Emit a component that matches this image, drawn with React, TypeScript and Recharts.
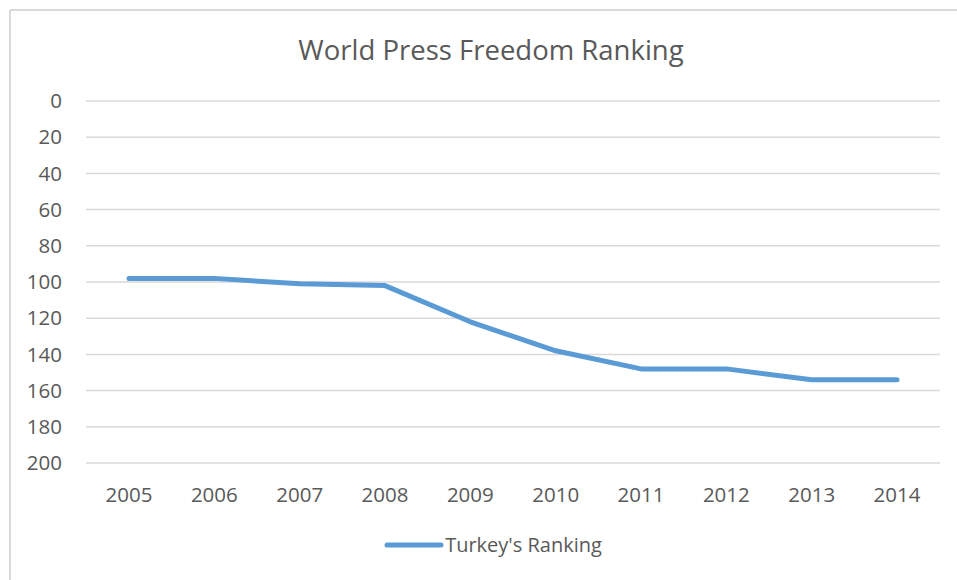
import React from 'react';
import { LineChart, Line, XAxis, YAxis, CartesianGrid, Legend } from 'recharts';

const years = ['2005', '2006', '2007', '2008', '2009', '2010', '2011', '2012', '2013', '2014'];
const turkeyRanking = [98, 98, 101, 102, 122, 138, 148, 148, 154, 154];
const yTicks = [0, 20, 40, 60, 80, 100, 120, 140, 160, 180, 200];
const seriesName = "Turkey's Ranking";
const title = 'World Press Freedom Ranking';

const data = years.map((y, i) => ({ year: y, value: turkeyRanking[i] }));

const FONT = '"Open Sans", Lato, sans-serif';
const TEXT = '#595959';

const LegendContent = () => (
  <div
    style={{
      display: 'flex',
      justifyContent: 'center',
      alignItems: 'center',
      height: 60,
      paddingTop: 44,
      boxSizing: 'border-box',
      paddingLeft: 20,
    }}
  >
    <svg width={60} height={10} style={{ display: 'block' }}>
      <line x1={3} y1={5} x2={57} y2={5} stroke="#5b9bd5" strokeWidth={5} strokeLinecap="round" />
    </svg>
    <span style={{ fontFamily: FONT, fontSize: 20, color: TEXT, marginLeft: 1, lineHeight: '20px' }}>
      {seriesName}
    </span>
  </div>
);

export default function App() {
  return (
    <div style={{ position: 'relative', width: 957, height: 580, background: '#fff', overflow: 'hidden' }}>
      <style>{'html,body{margin:0;padding:0;overflow:hidden;}'}</style>
      <svg
        width={957}
        height={580}
        style={{ position: 'absolute', left: 0, top: 0, display: 'block' }}
      >
        <line x1={10} y1={10} x2={957} y2={10} stroke="#d9d9d9" strokeWidth={2} />
        <line x1={10} y1={10} x2={10} y2={580} stroke="#d9d9d9" strokeWidth={2} />
      </svg>
      <div
        style={{
          position: 'absolute',
          left: 8,
          top: 31,
          width: 949,
          paddingLeft: 17,
          boxSizing: 'border-box',
          textAlign: 'center',
          fontFamily: FONT,
          fontSize: 27.5,
          color: TEXT,
          whiteSpace: 'nowrap',
        }}
      >
        {title}
      </div>
      <LineChart
        width={949}
        height={572}
        data={data}
        margin={{ top: 93, right: 17, bottom: 27, left: 18 }}
        style={{ position: 'absolute', left: 8, top: 8 }}
      >
        <CartesianGrid vertical={false} stroke="#d9d9d9" strokeWidth={1.5} />
        <XAxis
          dataKey="year"
          axisLine={false}
          tickLine={false}
          tickSize={8}
          tickMargin={16}
          padding={{ left: 43, right: 43 }}
          tick={{ fill: TEXT, fontFamily: FONT, fontSize: 20.5 }}
          height={30}
        />
        <YAxis
          reversed
          domain={[0, 200]}
          ticks={yTicks}
          interval={0}
          axisLine={false}
          tickLine={false}
          tickSize={0}
          tickMargin={24}
          width={60}
          tick={{ fill: TEXT, fontFamily: FONT, fontSize: 20.5 }}
        />
        <Legend verticalAlign="bottom" height={60} content={<LegendContent />} />
        <Line
          type="linear"
          dataKey="value"
          name={seriesName}
          stroke="#5b9bd5"
          strokeWidth={5}
          strokeLinecap="round"
          strokeLinejoin="round"
          dot={false}
          activeDot={false}
          isAnimationActive={false}
        />
      </LineChart>
    </div>
  );
}
